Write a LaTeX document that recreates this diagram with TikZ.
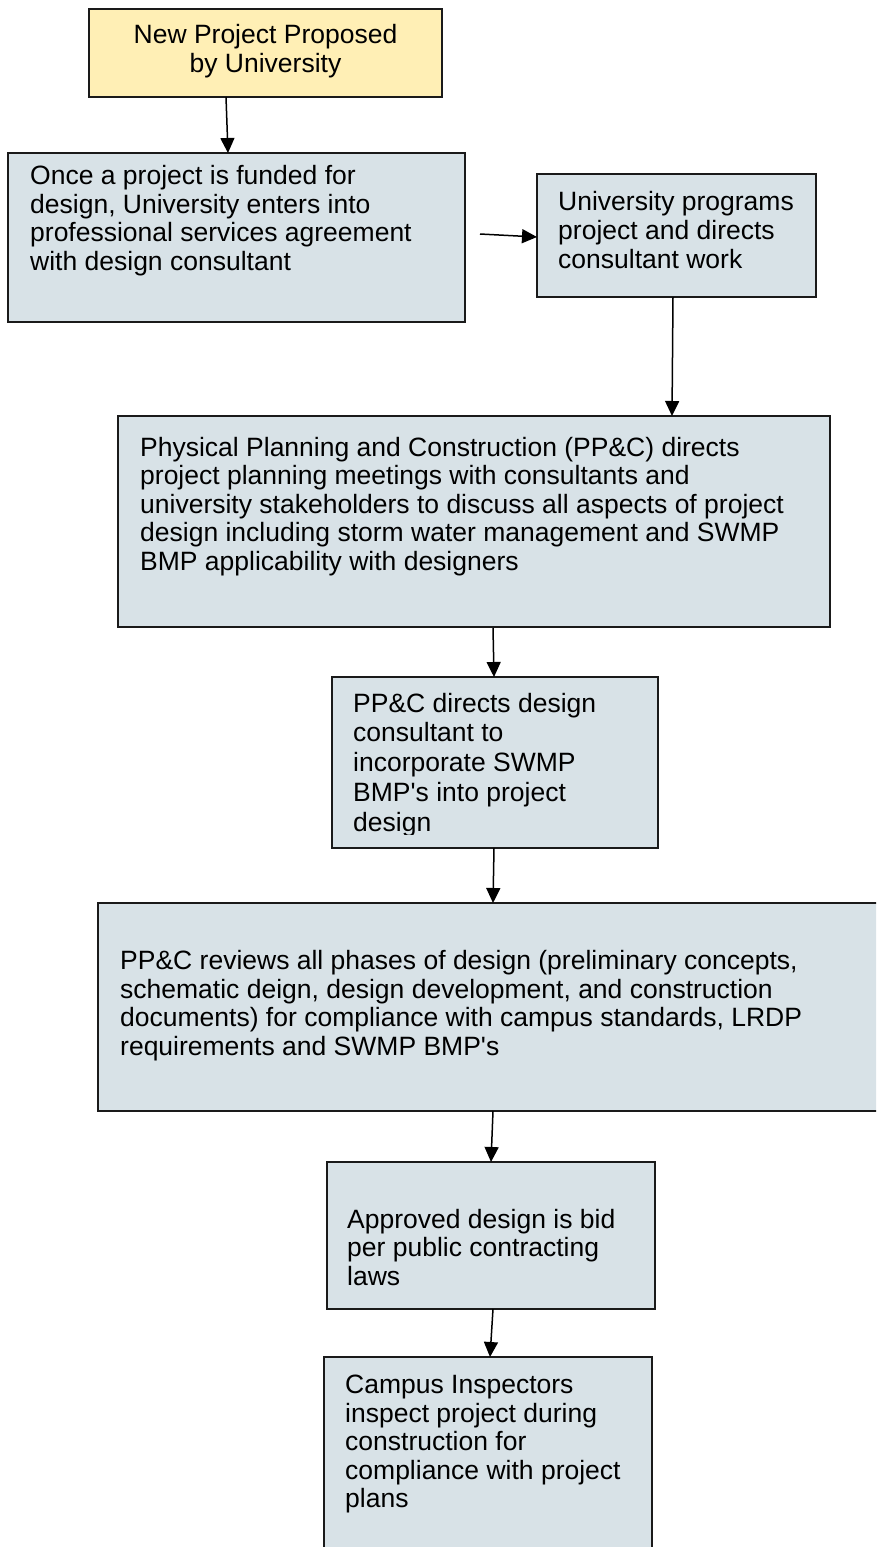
\documentclass[tikz,border=0pt]{standalone}
\usepackage{fontspec}
\setmainfont{Liberation Sans}
\usetikzlibrary{arrows.meta}
\definecolor{boxblue}{HTML}{D8E2E7}
\definecolor{boxyellow}{HTML}{FFEFB5}
\definecolor{edge}{HTML}{1A1A1A}
\newcommand{\apo}{\textquotesingle}
\tikzset{
  box/.style={draw=edge, line width=1.6pt, fill=boxblue, inner sep=0pt, outer sep=0pt, anchor=north west},
  txt/.style={font=\fontsize{26.5}{28.4}\selectfont, align=left, inner sep=0pt, anchor=base west},
  arr/.style={draw=black, line width=1.5pt, -{Triangle[length=15pt,width=14pt]}}
}
\begin{document}
\begin{tikzpicture}[x=1pt,y=1pt]
\useasboundingbox (0,0) rectangle (876,-1547);
\clip (0,0) rectangle (876,-1547);
\fill[white] (0,0) rectangle (876,-1547);

% boxes
\node[box, fill=boxyellow, minimum width=353pt, minimum height=88pt] (b1) at (89,-9) {};
\node[box, minimum width=457pt, minimum height=169pt] (b2) at (8,-153) {};
\node[box, minimum width=279pt, minimum height=123pt] (b3) at (537,-174) {};
\node[box, minimum width=712pt, minimum height=211pt] (b4) at (118,-416) {};
\node[box, minimum width=326pt, minimum height=171pt] (b5) at (332,-677) {};
\node[box, minimum width=790pt, minimum height=208pt] (b6) at (98,-903) {};
\node[box, minimum width=328pt, minimum height=147pt] (b7) at (327,-1162) {};
\node[box, minimum width=328pt, minimum height=220pt] (b8) at (324,-1357) {};

% texts (anchor = baseline of the last line)
\node[txt, align=center, anchor=base, font=\fontsize{26.5}{28.5}\selectfont] (t1) at (265.5,-72) {New Project Proposed\\by University};
\node[txt] (t2) at (30,-270) {Once a project is funded for\\design, University enters into\\professional services agreement\\with design consultant};
\node[txt, font=\fontsize{26.5}{29}\selectfont] (t3) at (558,-268.5) {University programs\\project and directs\\consultant work};
\node[txt, font=\fontsize{26.5}{28.5}\selectfont] (t4) at (140,-570) {Physical Planning and Construction (PP\&C) directs\\project planning meetings with consultants and\\university stakeholders to discuss all aspects of project\\design including storm water management and SWMP\\BMP applicability with designers};
\begin{scope}
\clip (332,-677) rectangle (658,-834);
\node[txt, font=\fontsize{26.5}{29.7}\selectfont] (t5) at (353,-831) {PP\&C directs design\\consultant to\\incorporate SWMP\\BMP\apo s into project\\design};
\end{scope}
\node[txt] (t6) at (120,-1055) {PP\&C reviews all phases of design (preliminary concepts,\\schematic deign, design development, and construction\\documents) for compliance with campus standards, LRDP\\requirements and SWMP BMP\apo s};
\node[txt] (t7) at (347,-1285) {Approved design is bid\\per public contracting\\laws};
\node[txt] (t8) at (345,-1507.5) {Campus Inspectors\\inspect project during\\construction for\\compliance with project\\plans};

% connectors
\draw[arr] ([xshift=137pt]b1.south west) -- ([xshift=220pt]b2.north west);
\draw[arr] ([xshift=15pt,yshift=3.5pt]b2.east) -- ([yshift=-1.5pt]b3.west);
\draw[arr] ([xshift=136pt]b3.south west) -- ([xshift=554pt]b4.north west);
\draw[arr] ([xshift=375pt,yshift=-1pt]b4.south west) -- ([xshift=162pt]b5.north west);
\draw[arr] ([xshift=162pt]b5.south west) -- ([xshift=395pt]b6.north west);
\draw[arr] ([xshift=395pt]b6.south west) -- ([xshift=164pt]b7.north west);
\draw[arr] ([xshift=166pt]b7.south west) -- ([xshift=166pt]b8.north west);
\end{tikzpicture}
\end{document}
